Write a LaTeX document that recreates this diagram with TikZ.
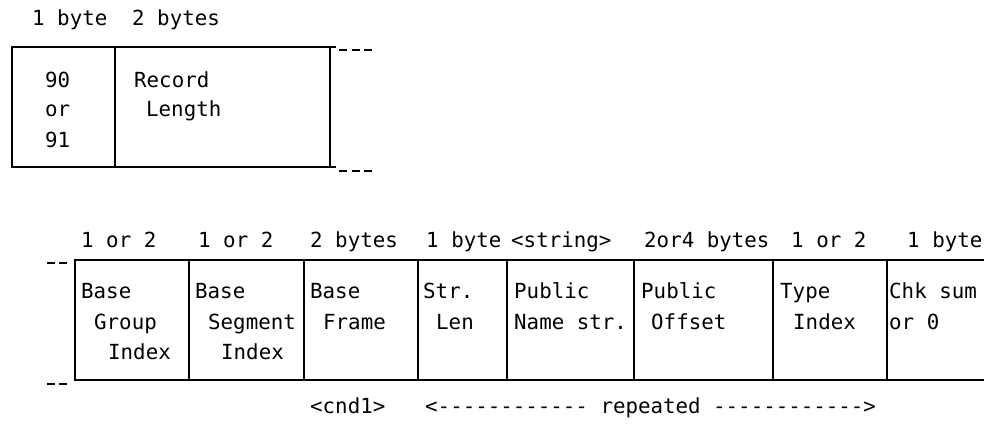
\documentclass[tikz,border=0pt]{standalone}
\usepackage{fontspec}
\newfontfamily\diagmono{DejaVu Sans Mono}
\begin{document}
\begin{tikzpicture}[x=1pt,y=-1pt,
  cellbox/.style={draw, line width=1.6pt, inner sep=0pt, outer sep=0pt, anchor=north west},
  cellfree/.style={inner sep=0pt, outer sep=0pt, anchor=north west},
  txt/.style={inner sep=0pt, anchor=base west, font=\diagmono\fontsize{20.8}{30}\selectfont},
  rule/.style={line width=1.6pt},
  dashline/.style={line width=1.8pt, dash pattern=on 8pt off 4.5pt}]
\useasboundingbox (0,0) rectangle (984,425);
% ---------- top record ----------
\node[txt] (h1) at (32,26) {1 byte};
\node[txt] (h2) at (132,26) {2 bytes};
\node[cellbox, minimum width=103pt, minimum height=120pt] (t1) at (12,47) {};
\node[cellbox, minimum width=215pt, minimum height=120pt] (t2) at (115,47) {};
\coordinate (te1) at (336,47);
\coordinate (te2) at (336,167);
\draw[rule] (t2.north east) -- (te1);
\draw[rule] (t2.south east) -- (te2);
\coordinate (td1a) at (339,50);
\coordinate (td1b) at (372,50);
\coordinate (td2a) at (339,171);
\coordinate (td2b) at (372,171);
\draw[dashline] (td1a) -- (td1b);
\draw[dashline] (td2a) -- (td2b);
\node[txt] (a1) at (45,88) {90};
\node[txt] (a2) at (45,117) {or};
\node[txt] (a3) at (45,147) {91};
\node[txt] (b1) at (134,88) {Record};
\node[txt] (b2) at (146,117) {Length};
% ---------- bottom record ----------
\node[txt] (l1) at (81,247) {1 or 2};
\node[txt] (l2) at (198,247) {1 or 2};
\node[txt] (l3) at (310,247) {2 bytes};
\node[txt] (l4) at (426,247) {1 byte};
\node[txt] (l5) at (511,247) {<string>};
\node[txt] (l6) at (644,247) {2or4 bytes};
\node[txt] (l7) at (791,247) {1 or 2};
\node[txt] (l8) at (907,247) {1 byte};
\node[cellbox, minimum width=114pt, minimum height=120pt] (c1) at (75,260) {};
\node[cellbox, minimum width=115pt, minimum height=120pt] (c2) at (189,260) {};
\node[cellbox, minimum width=114pt, minimum height=120pt] (c3) at (304,260) {};
\node[cellbox, minimum width=89pt, minimum height=120pt] (c4) at (418,260) {};
\node[cellbox, minimum width=127pt, minimum height=120pt] (c5) at (507,260) {};
\node[cellbox, minimum width=139pt, minimum height=120pt] (c6) at (634,260) {};
\node[cellbox, minimum width=114pt, minimum height=120pt] (c7) at (773,260) {};
\node[cellfree, minimum width=97pt, minimum height=120pt] (c8) at (887,260) {};
\draw[rule] (c8.north east) -- (c8.north west) -- (c8.south west) -- (c8.south east);
\coordinate (ld1a) at (47,263);
\coordinate (ld1b) at (67,263);
\coordinate (ld2a) at (47,384);
\coordinate (ld2b) at (67,384);
\draw[dashline, dash pattern=on 8pt off 4pt] (ld1a) -- (ld1b);
\draw[dashline, dash pattern=on 8pt off 4pt] (ld2a) -- (ld2b);
% cell texts
\node[txt] (x1a) at (81,298) {Base};
\node[txt] (x1b) at (94,329) {Group};
\node[txt] (x1c) at (108,359) {Index};
\node[txt] (x2a) at (195,298) {Base};
\node[txt] (x2b) at (208,329) {Segment};
\node[txt] (x2c) at (221,359) {Index};
\node[txt] (x3a) at (310,298) {Base};
\node[txt] (x3b) at (323,329) {Frame};
\node[txt] (x4a) at (423,298) {Str.};
\node[txt] (x4b) at (436,329) {Len};
\node[txt] (x5a) at (514,298) {Public};
\node[txt] (x5b) at (514,329) {Name str.};
\node[txt] (x6a) at (641,298) {Public};
\node[txt] (x6b) at (651,329) {Offset};
\node[txt] (x7a) at (780,298) {Type};
\node[txt] (x7b) at (793,329) {Index};
\node[txt] (x8a) at (889,298) {Chk sum};
\node[txt] (x8b) at (889,329) {or 0};
% footer
\node[txt] (f1) at (310,413) {<cnd1>};
\node[txt] (f2) at (425,413) {<------------ repeated ------------>};
\end{tikzpicture}
\end{document}
